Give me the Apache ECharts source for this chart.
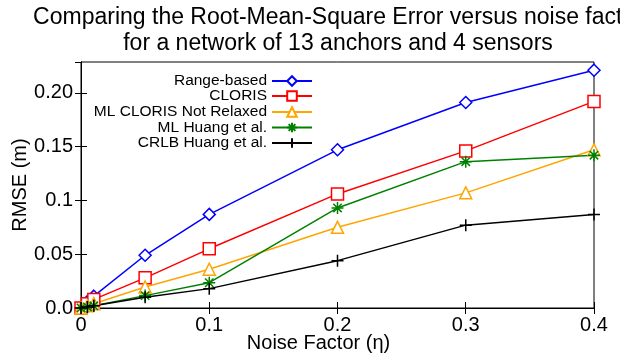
<!DOCTYPE html>
<html>
<head>
<meta charset="utf-8">
<script src="https://cdn.jsdelivr.net/npm/echarts@6/dist/echarts.min.js"></script>
<style>
  html, body { margin: 0; padding: 0; background: #fff; }
  #chart { width: 620px; height: 359px; }
</style>
</head>
<body>
<div id="chart"></div>
<script>
// noise factor values on the x axis
var noise = [0, 0.005, 0.01, 0.05, 0.1, 0.2, 0.3, 0.4];
// RMSE (m) per method
var rangeBased = [0, 0.006, 0.011, 0.049, 0.087, 0.147, 0.191, 0.221];
var cloris = [0, 0.004, 0.008, 0.028, 0.055, 0.106, 0.146, 0.192];
var mlClorisNotRelaxed = [0, 0.002, 0.004, 0.0195, 0.036, 0.075, 0.107, 0.147];
var mlHuang = [0, 0.001, 0.002, 0.0115, 0.0235, 0.093, 0.136, 0.142];
var crlbHuang = [0, 0.001, 0.002, 0.010, 0.018, 0.044, 0.077, 0.087];

var names = ['Range-based', 'CLORIS', 'ML CLORIS Not Relaxed', 'ML Huang et al.', 'CRLB Huang et al.'];
var yLabels = { 0: '0.0', 5: '0.05', 10: '0.1', 15: '0.15', 20: '0.20' };

var font = 'Liberation Sans, Arial, Helvetica, sans-serif';
var asterisk = 'path://M5,0L5,10M0,5L10,5M1.5,1.5L8.5,8.5M8.5,1.5L1.5,8.5';
var plus = 'path://M5,0L5,10M0,5L10,5';

function pairs(ys) {
  return noise.map(function (x, i) { return [x, ys[i]]; });
}

function mkSeries(name, ys, color, symbol, size) {
  return {
    name: name,
    type: 'line',
    data: pairs(ys),
    color: color,
    symbol: symbol,
    symbolSize: size,
    lineStyle: { color: color, width: 1.5 },
    itemStyle: { color: symbol.indexOf('path') === 0 ? color : '#fff', borderColor: color, borderWidth: 1.5 },
    emphasis: { disabled: true },
    z: 3
  };
}

var legendRows = [81, 96, 112, 127.5, 143];
var legends = names.map(function (n, i) {
  return {
    data: [n],
    right: 307,
    top: legendRows[i] - 8,
    align: 'right',
    itemWidth: 40,
    itemHeight: 12,
    itemGap: 0,
    padding: 0,
    textStyle: { fontFamily: font, fontSize: 15.5, color: '#000' }
  };
});

var chart = echarts.init(document.getElementById('chart'));
chart.setOption({
  backgroundColor: '#fff',
  animation: false,
  title: {
    text: 'Comparing the Root-Mean-Square Error versus noise factor\nfor a network of 13 anchors and 4 sensors',
    left: 333,
    top: 0,
    textAlign: 'center',
    textStyle: { fontFamily: font, fontSize: 23, fontWeight: 'normal', color: '#000', lineHeight: 26 }
  },
  legend: legends,
  grid: {
    left: 81, right: 26, top: 62, bottom: 51,
    outerBoundsMode: 'none', containLabel: false,
    show: true, borderColor: '#000', borderWidth: 1
  },
  xAxis: [{
    type: 'value',
    min: 0, max: 0.4, interval: 0.1,
    name: 'Noise Factor (η)',
    nameLocation: 'middle',
    nameGap: 25,
    nameMoveOverlap: false,
    nameTextStyle: { fontFamily: font, fontSize: 20, color: '#000', padding: [0, 38, 0, 0] },
    axisLine: { lineStyle: { color: '#000' } },
    axisTick: { inside: true, length: 6, lineStyle: { color: '#000' } },
    axisLabel: {
      fontFamily: font, fontSize: 20, color: '#000', margin: 7,
      formatter: function (v) { return v === 0 ? '0' : v.toFixed(1); }
    },
    splitLine: { show: false }
  }, {
    type: 'value', position: 'top',
    min: 0, max: 0.4, interval: 0.1,
    axisLine: { lineStyle: { color: '#000' } },
    axisTick: { inside: true, length: 6, lineStyle: { color: '#000' } },
    axisLabel: { show: false },
    splitLine: { show: false }
  }],
  yAxis: [{
    type: 'value',
    min: 0, max: 0.2286, interval: 0.05,
    name: 'RMSE (m)',
    nameLocation: 'middle',
    nameGap: 51,
    nameMoveOverlap: false,
    nameTextStyle: { fontFamily: font, fontSize: 20, color: '#000' },
    axisLine: { show: true, lineStyle: { color: '#000' } },
    axisTick: { show: true, inside: true, length: 6, lineStyle: { color: '#000' } },
    axisLabel: {
      fontFamily: font, fontSize: 20, color: '#000', margin: 8, showMaxLabel: false,
      formatter: function (v) {
        var k = Math.round(v * 100);
        return yLabels[k] !== undefined ? yLabels[k] : '';
      }
    },
    splitLine: { show: false }
  }, {
    type: 'value', position: 'right',
    min: 0, max: 0.2286, interval: 0.05,
    axisLine: { show: true, lineStyle: { color: '#000' } },
    axisTick: { show: true, inside: true, length: 6, lineStyle: { color: '#000' } },
    axisLabel: { show: false },
    splitLine: { show: false }
  }],
  series: [
    mkSeries(names[0], rangeBased, '#0000ff', 'diamond', 12),
    mkSeries(names[1], cloris, '#ff0000', 'rect', 12),
    mkSeries(names[2], mlClorisNotRelaxed, '#ffa500', 'triangle', 12),
    mkSeries(names[3], mlHuang, '#008000', asterisk, 12),
    mkSeries(names[4], crlbHuang, '#000000', plus, 12)
  ]
});
</script>
</body>
</html>
